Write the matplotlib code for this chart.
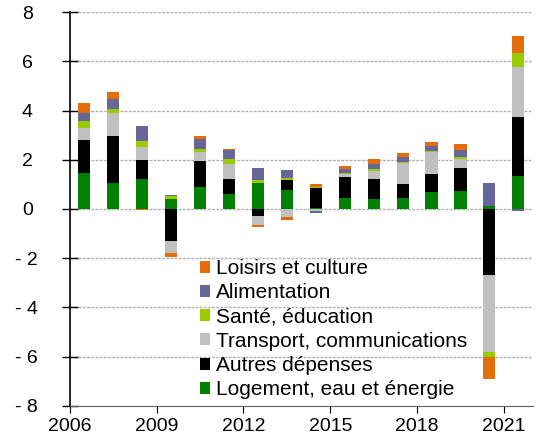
import numpy as np
import matplotlib
matplotlib.use("Agg")
import matplotlib.pyplot as plt
from matplotlib.transforms import ScaledTranslation

plt.rcParams['font.family'] = ['Liberation Sans', 'DejaVu Sans']

years = list(range(2006, 2022))
# stacking order: bottom to top
logement = [1.45, 1.06, 1.22, 0.41, 0.91, 0.60, 1.07, 0.77, 0.03, 0.43, 0.41, 0.43, 0.70, 0.73, 0.13, 1.34]
autres = [1.35, 1.92, 0.78, -1.29, 1.03, 0.62, -0.30, 0.41, 0.84, 0.88, 0.79, 0.60, 0.72, 0.95, -2.68, 2.40]
transport = [0.50, 0.91, 0.53, -0.51, 0.39, 0.62, -0.36, -0.33, -0.10, 0.10, 0.36, 0.85, 0.90, 0.36, -3.12, 2.04]
sante = [0.26, 0.16, 0.23, 0.12, 0.11, 0.18, 0.11, 0.09, 0.02, 0.07, 0.05, 0.04, 0.04, 0.06, -0.23, 0.57]
alimentation = [0.33, 0.41, 0.61, 0.04, 0.41, 0.38, 0.47, 0.33, -0.08, 0.16, 0.23, 0.21, 0.19, 0.29, 0.91, -0.07]
loisirs = [0.41, 0.31, -0.03, -0.16, 0.12, 0.04, -0.07, -0.13, 0.12, 0.11, 0.18, 0.16, 0.16, 0.24, -0.89, 0.68]

series = [
    ("Logement, eau et énergie", logement, "#008000"),
    ("Autres dépenses", autres, "#000000"),
    ("Transport, communications", transport, "#C0C0C0"),
    ("Santé, éducation", sante, "#99CC00"),
    ("Alimentation", alimentation, "#666699"),
    ("Loisirs et culture", loisirs, "#E46C0A"),
]

fig = plt.figure(figsize=(5.42, 4.37), dpi=100)
ax = fig.add_axes([0.129, 0.071, 0.854, 0.9015])

x = np.arange(len(years))
pos_base = np.zeros(len(years))
neg_base = np.zeros(len(years))
handles = []
for name, vals, color in series:
    v = np.array(vals)
    bottom = np.where(v >= 0, pos_base, neg_base)
    b = ax.bar(x, v, width=0.42, bottom=bottom, color=color, label=name, zorder=3)
    handles.append(b)
    pos_base += np.where(v >= 0, v, 0)
    neg_base += np.where(v < 0, v, 0)

ax.set_ylim(-8, 8)
ax.set_xlim(-0.5, len(years) - 0.5)
yt = np.arange(-8, 9, 2)
ax.set_yticks(yt)
ax.set_yticklabels([f"- {abs(t)}" if t < 0 else str(t) for t in yt], fontsize=14)
tick_years = years[::3]
ax.set_xticks([years.index(y) - 0.5 for y in tick_years])
ax.set_xticklabels([str(y) for y in tick_years], fontsize=14)
ax.tick_params(axis='y', length=12, width=1.0, direction='inout', pad=17)
ax.tick_params(axis='x', length=5, width=0.8, direction='out', pad=4)

# positive labels sit a little further left (French number format padding)
shift = ScaledTranslation(-5 / 100, 0, fig.dpi_scale_trans)
for t, lab in zip(yt, ax.get_yticklabels()):
    if t >= 0:
        lab.set_transform(lab.get_transform() + shift)

for t in yt[1:]:
    ax.axhline(t, color='#B0B0B0', linestyle=(0, (2, 1)), linewidth=1.0, zorder=1)

for s in ['top', 'right']:
    ax.spines[s].set_visible(False)
ax.spines['left'].set_linewidth(1.2)
ax.spines['bottom'].set_color('#606060')

ax.legend(handles[::-1], [s[0] for s in series[::-1]], loc='upper left',
          bbox_to_anchor=(0.369, 0.407), bbox_transform=fig.transFigure,
          frameon=False, fontsize=15, handlelength=0.5, handleheight=0.5,
          handletextpad=0.25, labelspacing=0.25, borderpad=0, borderaxespad=0)

fig.savefig("out.png", dpi=100)
